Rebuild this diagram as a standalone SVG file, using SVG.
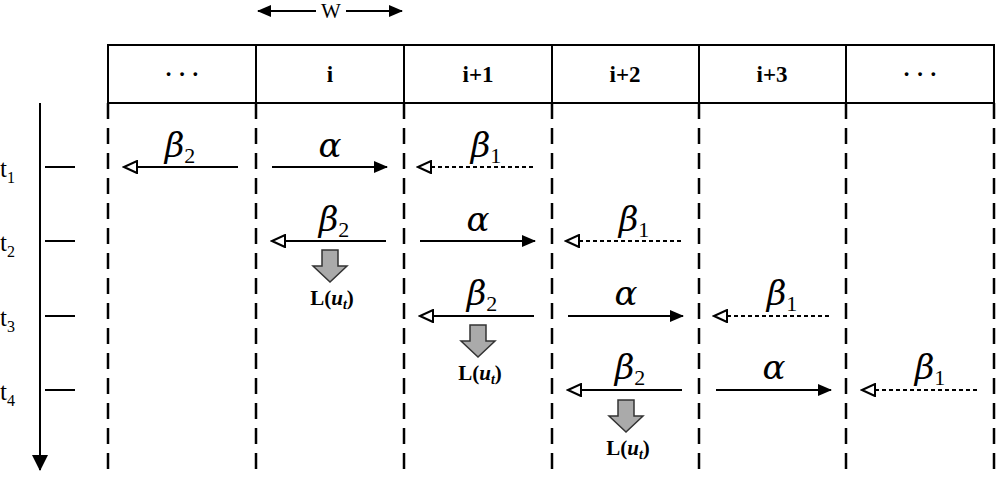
<svg xmlns="http://www.w3.org/2000/svg" width="1002" height="485" viewBox="0 0 1002 485">
<style>
.t{font-family:"Liberation Serif","DejaVu Serif",serif;fill:#000}
.h{font-size:23px;font-weight:bold;text-anchor:middle}
.g{font-family:"DejaVu Serif",serif;font-size:34px;font-style:italic;text-anchor:middle}
.s{font-family:"Liberation Serif",serif;font-size:22px;font-style:normal}
.ln{stroke:#000;stroke-width:2;fill:none}
.dl{stroke:#000;stroke-width:2.5;stroke-dasharray:16,9;fill:none}
.dt{stroke:#000;stroke-width:2;stroke-dasharray:4,3;fill:none}
.blk{fill:#aaa;stroke:#333;stroke-width:1.5}
</style>
<defs>
<marker id="f" markerWidth="14" markerHeight="12" refX="13" refY="6" orient="auto" markerUnits="userSpaceOnUse"><path d="M0,0 L14,6 L0,12 Z" fill="#000"/></marker>
<marker id="o" markerWidth="16" markerHeight="14" refX="14" refY="7" orient="auto" markerUnits="userSpaceOnUse"><path d="M1,1 L14,7 L1,13 Z" fill="#fff" stroke="#000" stroke-width="2"/></marker>
<marker id="w" markerWidth="14" markerHeight="12" refX="13" refY="6" orient="auto-start-reverse" markerUnits="userSpaceOnUse"><path d="M0,0 L14,6 L0,12 Z" fill="#000"/></marker>
<marker id="ax" markerWidth="16" markerHeight="20" refX="15" refY="8" orient="auto" markerUnits="userSpaceOnUse"><path d="M0,0 L16,8 L0,16 Z" fill="#000"/></marker>
<g id="blockarrow"><path id="ba" d="M-8,0 H8 V16 H17 L0,32 L-17,16 H-8 Z" class="blk"/></g>
</defs>
<g id="header">
<rect x="108" y="45" width="886" height="58" class="ln"/>
<path d="M256,45V103M404,45V103M552,45V103M699,45V103M846,45V103" class="ln"/>
<text class="t h" x="182" y="82">·  ·  ·</text>
<text class="t h" x="330" y="82">i</text>
<text class="t h" x="478" y="82">i+1</text>
<text class="t h" x="625" y="82">i+2</text>
<text class="t h" x="772" y="82">i+3</text>
<text class="t h" x="920" y="82">·  ·  ·</text>
</g>
<g id="width">
<line x1="258" y1="11" x2="316" y2="11" class="ln" marker-start="url(#w)"/>
<line x1="346" y1="11" x2="402" y2="11" class="ln" marker-end="url(#w)"/>
<text class="t" x="331" y="18" font-size="21" text-anchor="middle">W</text>
</g>
<g id="grid">
<path d="M108,103V470M256,103V470M404,103V470M552,103V470M699,103V470M846,103V470M994,103V470" class="dl"/>
</g>
<g id="timeaxis">
<line x1="40" y1="103" x2="40" y2="470" class="ln" marker-end="url(#ax)"/>
<path d="M45,167H75M45,241H75M45,316H75M45,390H75" class="ln"/>
<text class="t" x="0" y="177" font-size="25">t<tspan font-size="16" dy="6">1</tspan></text>
<text class="t" x="0" y="251" font-size="25">t<tspan font-size="16" dy="6">2</tspan></text>
<text class="t" x="0" y="326" font-size="25">t<tspan font-size="16" dy="6">3</tspan></text>
<text class="t" x="0" y="400" font-size="25">t<tspan font-size="16" dy="6">4</tspan></text>
</g>
<g id="connectors">
<line x1="238" y1="167" x2="124" y2="167" class="ln" marker-end="url(#o)"/>
<line x1="272" y1="167" x2="387" y2="167" class="ln" marker-end="url(#f)"/>
<line x1="533" y1="167" x2="418" y2="167" class="dt" marker-end="url(#o)"/>
<line x1="386" y1="241" x2="272" y2="241" class="ln" marker-end="url(#o)"/>
<line x1="420" y1="241" x2="535" y2="241" class="ln" marker-end="url(#f)"/>
<line x1="681" y1="241" x2="566" y2="241" class="dt" marker-end="url(#o)"/>
<line x1="534" y1="316" x2="420" y2="316" class="ln" marker-end="url(#o)"/>
<line x1="568" y1="316" x2="683" y2="316" class="ln" marker-end="url(#f)"/>
<line x1="829" y1="316" x2="714" y2="316" class="dt" marker-end="url(#o)"/>
<line x1="682" y1="390" x2="568" y2="390" class="ln" marker-end="url(#o)"/>
<line x1="716" y1="390" x2="831" y2="390" class="ln" marker-end="url(#f)"/>
<line x1="977" y1="390" x2="862" y2="390" class="dt" marker-end="url(#o)"/>
</g>
<g id="labels">
<text class="t g" x="180" y="157">β<tspan class="s" dy="6">2</tspan></text>
<text class="t g" x="330" y="157">α</text>
<text class="t g" x="486" y="157">β<tspan class="s" dy="6">1</tspan></text>
<text class="t g" x="334" y="231">β<tspan class="s" dy="6">2</tspan></text>
<text class="t g" x="478" y="231">α</text>
<text class="t g" x="634" y="231">β<tspan class="s" dy="6">1</tspan></text>
<text class="t g" x="482" y="305">β<tspan class="s" dy="6">2</tspan></text>
<text class="t g" x="626" y="305">α</text>
<text class="t g" x="782" y="305">β<tspan class="s" dy="6">1</tspan></text>
<text class="t g" x="630" y="379">β<tspan class="s" dy="6">2</tspan></text>
<text class="t g" x="774" y="379">α</text>
<text class="t g" x="930" y="379">β<tspan class="s" dy="6">1</tspan></text>
</g>
<g id="loss">
<use href="#ba" x="330" y="250"/>
<use href="#ba" x="478" y="325"/>
<use href="#ba" x="626" y="400"/>
<text class="t" x="332" y="305" font-size="21" font-weight="bold" text-anchor="middle">L(<tspan font-style="italic">u<tspan font-size="14" dy="4">t</tspan></tspan><tspan dy="-4">)</tspan></text>
<text class="t" x="480" y="380" font-size="21" font-weight="bold" text-anchor="middle">L(<tspan font-style="italic">u<tspan font-size="14" dy="4">t</tspan></tspan><tspan dy="-4">)</tspan></text>
<text class="t" x="628" y="455" font-size="21" font-weight="bold" text-anchor="middle">L(<tspan font-style="italic">u<tspan font-size="14" dy="4">t</tspan></tspan><tspan dy="-4">)</tspan></text>
</g>
</svg>
